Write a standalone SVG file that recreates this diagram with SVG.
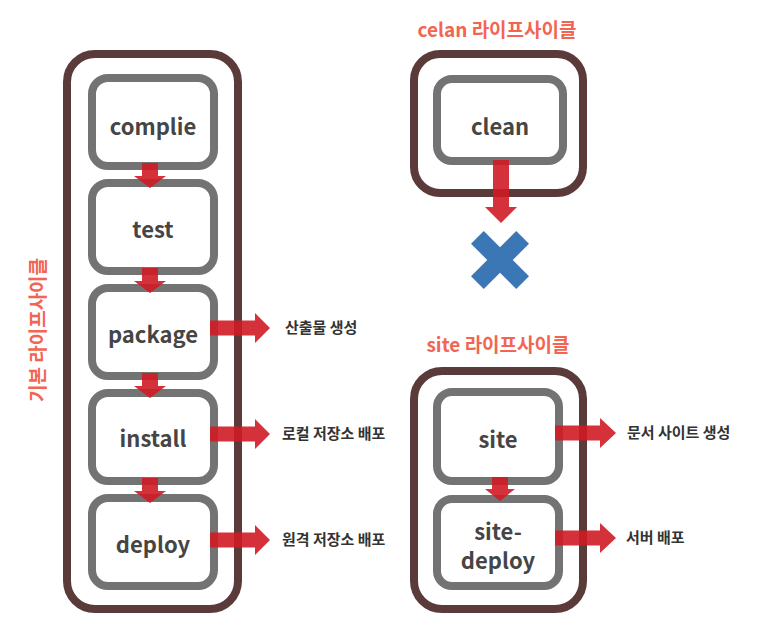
<svg xmlns="http://www.w3.org/2000/svg" width="774" height="624" viewBox="0 0 774 624">
<style>
.outer{fill:#fff;stroke:#5b3a3a;stroke-width:8}
.box{fill:#fff;stroke:#737373;stroke-width:8}
.arr{fill:#d01b25;fill-opacity:0.9}
.t{font-family:"Noto Sans CJK KR","Noto Sans",sans-serif;font-weight:700;font-size:22px;fill:#454545;text-anchor:middle}
.lbl{font-family:"Noto Sans CJK KR","Noto Sans",sans-serif;font-weight:700;font-size:15px;fill:#333}
.ttl{font-family:"Noto Sans CJK KR","Noto Sans",sans-serif;font-weight:700;font-size:19px;fill:#f26552;text-anchor:middle}
</style>
<rect width="774" height="624" fill="#fff"/>
<g id="basic-lifecycle">
<rect class="outer" x="67" y="54" width="171" height="555" rx="28"/>
<text class="ttl" transform="translate(45,330) rotate(-90)">기본 라이프사이클</text>
</g>
<g id="compile"><rect class="box" x="92" y="78" width="122" height="88" rx="16"/><text class="t" x="153" y="135">complie</text></g>
<g id="test"><rect class="box" x="92" y="183" width="122" height="88" rx="16"/><text class="t" x="153" y="238">test</text></g>
<g id="package"><rect class="box" x="92" y="288" width="122" height="88" rx="16"/><text class="t" x="153" y="343">package</text></g>
<g id="install"><rect class="box" x="92" y="393" width="122" height="88" rx="16"/><text class="t" x="153" y="447">install</text></g>
<g id="deploy"><rect class="box" x="92" y="498" width="122" height="88" rx="16"/><text class="t" x="153" y="553">deploy</text></g>

<g id="clean-lifecycle">
<text class="ttl" x="497" y="37">celan 라이프사이클</text>
<rect class="outer" x="414" y="54" width="169" height="139" rx="26"/>
</g>
<g id="clean"><rect class="box" x="437" y="79" width="126" height="82" rx="15"/><text class="t" x="500" y="135">clean</text></g>
<g id="stop">
<g transform="translate(500,260) rotate(45)" fill="#3b77b4">
<rect x="-32" y="-9" width="64" height="18"/>
<rect x="-9" y="-32" width="18" height="64"/>
</g>
</g>

<g id="site-lifecycle">
<text class="ttl" x="498" y="352">site 라이프사이클</text>
<rect class="outer" x="414" y="371" width="169" height="238" rx="28"/>
</g>
<g id="site"><rect class="box" x="437" y="392" width="122" height="89" rx="15"/><text class="t" x="498" y="448">site</text></g>
<g id="site-deploy"><rect class="box" x="437" y="499" width="122" height="87" rx="15"/><text class="t" x="498" y="540">site-</text><text class="t" x="498" y="569">deploy</text></g>

<g id="connectors">
<path class="arr" d="M142,163H158V176H166L150,188L134,176H142Z"/>
<path class="arr" d="M142,268H158V281H166L150,293L134,281H142Z"/>
<path class="arr" d="M142,373H158V386H166L150,398L134,386H142Z"/>
<path class="arr" d="M142,478H158V491H166L150,503L134,491H142Z"/>
<path class="arr" d="M210,320.5H255V313L270,328L255,343V335.5H210Z"/>
<path class="arr" d="M210,426.5H255V419L270,434L255,449V441.5H210Z"/>
<path class="arr" d="M210,532.5H255V525L270,540L255,555V547.5H210Z"/>
<path class="arr" d="M493,160H509V207H517L501,223L485,207H493Z"/>
<path class="arr" d="M492,477H508V489H515L500,501L485,489H492Z"/>
<path class="arr" d="M555,425.5H600V418L616,433L600,448V440.5H555Z"/>
<path class="arr" d="M555,530.5H600V523L616,538L600,553V545.5H555Z"/>
</g>
<g id="labels">
<text class="lbl" x="285" y="333">산출물 생성</text>
<text class="lbl" x="282" y="439">로컬 저장소 배포</text>
<text class="lbl" x="282" y="545">원격 저장소 배포</text>
<text class="lbl" x="627" y="438">문서 사이트 생성</text>
<text class="lbl" x="626" y="543">서버 배포</text>
</g>
</svg>
